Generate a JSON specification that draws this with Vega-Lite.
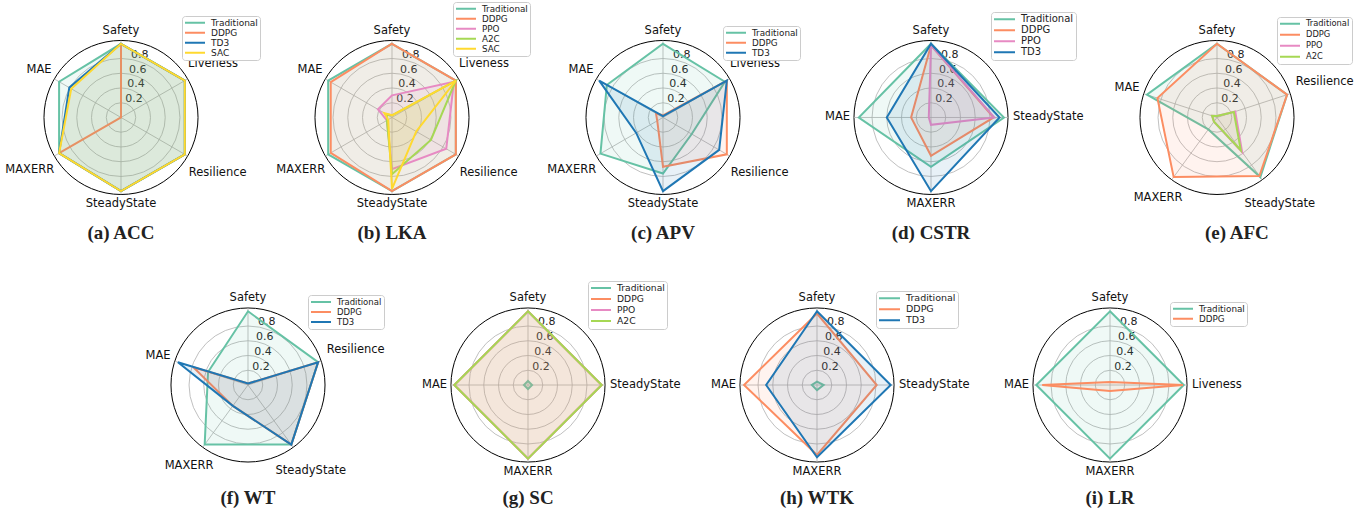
{
"$schema": "https://vega.github.io/schema/vega-lite/v6.json",
"padding": 0,
"background": "white",
"config": {"view": {"stroke": null}, "font": "DejaVu Sans", "legend": {"padding": 2}},
"datasets": {
"rings": [{"g":0.2},{"g":0.4},{"g":0.6},{"g":0.8}],
"outer": [{"g":1.045}],
"radar": [
{"p":"a","m":"Traditional","a":"Safety","i":0,"n":6,"v":1.0},
{"p":"a","m":"Traditional","a":"Liveness","i":1,"n":6,"v":1.0},
{"p":"a","m":"Traditional","a":"Resilience","i":2,"n":6,"v":1.0},
{"p":"a","m":"Traditional","a":"SteadyState","i":3,"n":6,"v":1.0},
{"p":"a","m":"Traditional","a":"MAXERR","i":4,"n":6,"v":0.97},
{"p":"a","m":"Traditional","a":"MAE","i":5,"n":6,"v":0.97},
{"p":"a","m":"DDPG","a":"Safety","i":0,"n":6,"v":0.98},
{"p":"a","m":"DDPG","a":"Liveness","i":1,"n":6,"v":0.0},
{"p":"a","m":"DDPG","a":"Resilience","i":2,"n":6,"v":0.0},
{"p":"a","m":"DDPG","a":"SteadyState","i":3,"n":6,"v":0.0},
{"p":"a","m":"DDPG","a":"MAXERR","i":4,"n":6,"v":0.97},
{"p":"a","m":"DDPG","a":"MAE","i":5,"n":6,"v":0.0},
{"p":"a","m":"TD3","a":"Safety","i":0,"n":6,"v":1.0},
{"p":"a","m":"TD3","a":"Liveness","i":1,"n":6,"v":1.0},
{"p":"a","m":"TD3","a":"Resilience","i":2,"n":6,"v":1.0},
{"p":"a","m":"TD3","a":"SteadyState","i":3,"n":6,"v":1.0},
{"p":"a","m":"TD3","a":"MAXERR","i":4,"n":6,"v":0.97},
{"p":"a","m":"TD3","a":"MAE","i":5,"n":6,"v":0.81},
{"p":"a","m":"SAC","a":"Safety","i":0,"n":6,"v":1.0},
{"p":"a","m":"SAC","a":"Liveness","i":1,"n":6,"v":1.0},
{"p":"a","m":"SAC","a":"Resilience","i":2,"n":6,"v":1.0},
{"p":"a","m":"SAC","a":"SteadyState","i":3,"n":6,"v":1.0},
{"p":"a","m":"SAC","a":"MAXERR","i":4,"n":6,"v":0.97},
{"p":"a","m":"SAC","a":"MAE","i":5,"n":6,"v":0.78},
{"p":"b","m":"Traditional","a":"Safety","i":0,"n":6,"v":1.0},
{"p":"b","m":"Traditional","a":"Liveness","i":1,"n":6,"v":1.0},
{"p":"b","m":"Traditional","a":"Resilience","i":2,"n":6,"v":1.0},
{"p":"b","m":"Traditional","a":"SteadyState","i":3,"n":6,"v":1.0},
{"p":"b","m":"Traditional","a":"MAXERR","i":4,"n":6,"v":1.0},
{"p":"b","m":"Traditional","a":"MAE","i":5,"n":6,"v":1.0},
{"p":"b","m":"DDPG","a":"Safety","i":0,"n":6,"v":1.0},
{"p":"b","m":"DDPG","a":"Liveness","i":1,"n":6,"v":1.0},
{"p":"b","m":"DDPG","a":"Resilience","i":2,"n":6,"v":1.0},
{"p":"b","m":"DDPG","a":"SteadyState","i":3,"n":6,"v":1.0},
{"p":"b","m":"DDPG","a":"MAXERR","i":4,"n":6,"v":0.96},
{"p":"b","m":"DDPG","a":"MAE","i":5,"n":6,"v":0.96},
{"p":"b","m":"PPO","a":"Safety","i":0,"n":6,"v":0.3},
{"p":"b","m":"PPO","a":"Liveness","i":1,"n":6,"v":0.97},
{"p":"b","m":"PPO","a":"Resilience","i":2,"n":6,"v":0.85},
{"p":"b","m":"PPO","a":"SteadyState","i":3,"n":6,"v":0.7},
{"p":"b","m":"PPO","a":"MAXERR","i":4,"n":6,"v":0.08},
{"p":"b","m":"PPO","a":"MAE","i":5,"n":6,"v":0.22},
{"p":"b","m":"A2C","a":"Safety","i":0,"n":6,"v":0.03},
{"p":"b","m":"A2C","a":"Liveness","i":1,"n":6,"v":1.0},
{"p":"b","m":"A2C","a":"Resilience","i":2,"n":6,"v":0.61},
{"p":"b","m":"A2C","a":"SteadyState","i":3,"n":6,"v":0.77},
{"p":"b","m":"A2C","a":"MAXERR","i":4,"n":6,"v":0.08},
{"p":"b","m":"A2C","a":"MAE","i":5,"n":6,"v":0.08},
{"p":"b","m":"SAC","a":"Safety","i":0,"n":6,"v":0.03},
{"p":"b","m":"SAC","a":"Liveness","i":1,"n":6,"v":1.0},
{"p":"b","m":"SAC","a":"Resilience","i":2,"n":6,"v":0.38},
{"p":"b","m":"SAC","a":"SteadyState","i":3,"n":6,"v":0.97},
{"p":"b","m":"SAC","a":"MAXERR","i":4,"n":6,"v":0.06},
{"p":"b","m":"SAC","a":"MAE","i":5,"n":6,"v":0.12},
{"p":"c","m":"Traditional","a":"Safety","i":0,"n":6,"v":1.0},
{"p":"c","m":"Traditional","a":"Liveness","i":1,"n":6,"v":0.97},
{"p":"c","m":"Traditional","a":"Resilience","i":2,"n":6,"v":0.45},
{"p":"c","m":"Traditional","a":"SteadyState","i":3,"n":6,"v":0.76},
{"p":"c","m":"Traditional","a":"MAXERR","i":4,"n":6,"v":0.98},
{"p":"c","m":"Traditional","a":"MAE","i":5,"n":6,"v":0.88},
{"p":"c","m":"DDPG","a":"Safety","i":0,"n":6,"v":0.03},
{"p":"c","m":"DDPG","a":"Liveness","i":1,"n":6,"v":1.0},
{"p":"c","m":"DDPG","a":"Resilience","i":2,"n":6,"v":1.0},
{"p":"c","m":"DDPG","a":"SteadyState","i":3,"n":6,"v":0.67},
{"p":"c","m":"DDPG","a":"MAXERR","i":4,"n":6,"v":0.09},
{"p":"c","m":"DDPG","a":"MAE","i":5,"n":6,"v":0.11},
{"p":"c","m":"TD3","a":"Safety","i":0,"n":6,"v":0.02},
{"p":"c","m":"TD3","a":"Liveness","i":1,"n":6,"v":1.0},
{"p":"c","m":"TD3","a":"Resilience","i":2,"n":6,"v":0.88},
{"p":"c","m":"TD3","a":"SteadyState","i":3,"n":6,"v":1.0},
{"p":"c","m":"TD3","a":"MAXERR","i":4,"n":6,"v":0.42},
{"p":"c","m":"TD3","a":"MAE","i":5,"n":6,"v":1.0},
{"p":"d","m":"Traditional","a":"Safety","i":0,"n":4,"v":1.0},
{"p":"d","m":"Traditional","a":"SteadyState","i":1,"n":4,"v":0.99},
{"p":"d","m":"Traditional","a":"MAXERR","i":2,"n":4,"v":0.67},
{"p":"d","m":"Traditional","a":"MAE","i":3,"n":4,"v":0.98},
{"p":"d","m":"DDPG","a":"Safety","i":0,"n":4,"v":0.98},
{"p":"d","m":"DDPG","a":"SteadyState","i":1,"n":4,"v":0.85},
{"p":"d","m":"DDPG","a":"MAXERR","i":2,"n":4,"v":0.52},
{"p":"d","m":"DDPG","a":"MAE","i":3,"n":4,"v":0.27},
{"p":"d","m":"PPO","a":"Safety","i":0,"n":4,"v":0.98},
{"p":"d","m":"PPO","a":"SteadyState","i":1,"n":4,"v":0.86},
{"p":"d","m":"PPO","a":"MAXERR","i":2,"n":4,"v":0.1},
{"p":"d","m":"PPO","a":"MAE","i":3,"n":4,"v":0.03},
{"p":"d","m":"TD3","a":"Safety","i":0,"n":4,"v":1.0},
{"p":"d","m":"TD3","a":"SteadyState","i":1,"n":4,"v":0.93},
{"p":"d","m":"TD3","a":"MAXERR","i":2,"n":4,"v":1.0},
{"p":"d","m":"TD3","a":"MAE","i":3,"n":4,"v":0.6},
{"p":"e","m":"Traditional","a":"Safety","i":0,"n":5,"v":1.0},
{"p":"e","m":"Traditional","a":"Resilience","i":1,"n":5,"v":1.0},
{"p":"e","m":"Traditional","a":"SteadyState","i":2,"n":5,"v":1.0},
{"p":"e","m":"Traditional","a":"MAXERR","i":3,"n":5,"v":0.2},
{"p":"e","m":"Traditional","a":"MAE","i":4,"n":5,"v":1.0},
{"p":"e","m":"DDPG","a":"Safety","i":0,"n":5,"v":1.0},
{"p":"e","m":"DDPG","a":"Resilience","i":1,"n":5,"v":1.0},
{"p":"e","m":"DDPG","a":"SteadyState","i":2,"n":5,"v":0.98},
{"p":"e","m":"DDPG","a":"MAXERR","i":3,"n":5,"v":1.0},
{"p":"e","m":"DDPG","a":"MAE","i":4,"n":5,"v":0.85},
{"p":"e","m":"PPO","a":"Safety","i":0,"n":5,"v":0.02},
{"p":"e","m":"PPO","a":"Resilience","i":1,"n":5,"v":0.26},
{"p":"e","m":"PPO","a":"SteadyState","i":2,"n":5,"v":0.58},
{"p":"e","m":"PPO","a":"MAXERR","i":3,"n":5,"v":0.07},
{"p":"e","m":"PPO","a":"MAE","i":4,"n":5,"v":0.07},
{"p":"e","m":"A2C","a":"Safety","i":0,"n":5,"v":0.02},
{"p":"e","m":"A2C","a":"Resilience","i":1,"n":5,"v":0.24},
{"p":"e","m":"A2C","a":"SteadyState","i":2,"n":5,"v":0.55},
{"p":"e","m":"A2C","a":"MAXERR","i":3,"n":5,"v":0.07},
{"p":"e","m":"A2C","a":"MAE","i":4,"n":5,"v":0.07},
{"p":"f","m":"Traditional","a":"Safety","i":0,"n":5,"v":1.0},
{"p":"f","m":"Traditional","a":"Resilience","i":1,"n":5,"v":1.0},
{"p":"f","m":"Traditional","a":"SteadyState","i":2,"n":5,"v":1.0},
{"p":"f","m":"Traditional","a":"MAXERR","i":3,"n":5,"v":1.0},
{"p":"f","m":"Traditional","a":"MAE","i":4,"n":5,"v":0.57},
{"p":"f","m":"DDPG","a":"Safety","i":0,"n":5,"v":0.02},
{"p":"f","m":"DDPG","a":"Resilience","i":1,"n":5,"v":1.0},
{"p":"f","m":"DDPG","a":"SteadyState","i":2,"n":5,"v":1.0},
{"p":"f","m":"DDPG","a":"MAXERR","i":3,"n":5,"v":0.35},
{"p":"f","m":"DDPG","a":"MAE","i":4,"n":5,"v":0.78},
{"p":"f","m":"TD3","a":"Safety","i":0,"n":5,"v":0.02},
{"p":"f","m":"TD3","a":"Resilience","i":1,"n":5,"v":1.0},
{"p":"f","m":"TD3","a":"SteadyState","i":2,"n":5,"v":1.0},
{"p":"f","m":"TD3","a":"MAXERR","i":3,"n":5,"v":0.35},
{"p":"f","m":"TD3","a":"MAE","i":4,"n":5,"v":1.0},
{"p":"g","m":"Traditional","a":"Safety","i":0,"n":4,"v":0.055},
{"p":"g","m":"Traditional","a":"SteadyState","i":1,"n":4,"v":0.055},
{"p":"g","m":"Traditional","a":"MAXERR","i":2,"n":4,"v":0.055},
{"p":"g","m":"Traditional","a":"MAE","i":3,"n":4,"v":0.055},
{"p":"g","m":"DDPG","a":"Safety","i":0,"n":4,"v":1.0},
{"p":"g","m":"DDPG","a":"SteadyState","i":1,"n":4,"v":1.0},
{"p":"g","m":"DDPG","a":"MAXERR","i":2,"n":4,"v":1.0},
{"p":"g","m":"DDPG","a":"MAE","i":3,"n":4,"v":1.0},
{"p":"g","m":"PPO","a":"Safety","i":0,"n":4,"v":1.0},
{"p":"g","m":"PPO","a":"SteadyState","i":1,"n":4,"v":1.0},
{"p":"g","m":"PPO","a":"MAXERR","i":2,"n":4,"v":1.0},
{"p":"g","m":"PPO","a":"MAE","i":3,"n":4,"v":1.0},
{"p":"g","m":"A2C","a":"Safety","i":0,"n":4,"v":1.0},
{"p":"g","m":"A2C","a":"SteadyState","i":1,"n":4,"v":1.0},
{"p":"g","m":"A2C","a":"MAXERR","i":2,"n":4,"v":1.0},
{"p":"g","m":"A2C","a":"MAE","i":3,"n":4,"v":1.0},
{"p":"h","m":"Traditional","a":"Safety","i":0,"n":4,"v":0.045},
{"p":"h","m":"Traditional","a":"SteadyState","i":1,"n":4,"v":0.09},
{"p":"h","m":"Traditional","a":"MAXERR","i":2,"n":4,"v":0.07},
{"p":"h","m":"Traditional","a":"MAE","i":3,"n":4,"v":0.07},
{"p":"h","m":"DDPG","a":"Safety","i":0,"n":4,"v":0.97},
{"p":"h","m":"DDPG","a":"SteadyState","i":1,"n":4,"v":0.81},
{"p":"h","m":"DDPG","a":"MAXERR","i":2,"n":4,"v":0.95},
{"p":"h","m":"DDPG","a":"MAE","i":3,"n":4,"v":0.99},
{"p":"h","m":"TD3","a":"Safety","i":0,"n":4,"v":1.0},
{"p":"h","m":"TD3","a":"SteadyState","i":1,"n":4,"v":1.0},
{"p":"h","m":"TD3","a":"MAXERR","i":2,"n":4,"v":0.98},
{"p":"h","m":"TD3","a":"MAE","i":3,"n":4,"v":0.69},
{"p":"i","m":"Traditional","a":"Safety","i":0,"n":4,"v":1.0},
{"p":"i","m":"Traditional","a":"Liveness","i":1,"n":4,"v":1.0},
{"p":"i","m":"Traditional","a":"MAXERR","i":2,"n":4,"v":1.0},
{"p":"i","m":"Traditional","a":"MAE","i":3,"n":4,"v":1.0},
{"p":"i","m":"DDPG","a":"Safety","i":0,"n":4,"v":0.04},
{"p":"i","m":"DDPG","a":"Liveness","i":1,"n":4,"v":0.99},
{"p":"i","m":"DDPG","a":"MAXERR","i":2,"n":4,"v":0.08},
{"p":"i","m":"DDPG","a":"MAE","i":3,"n":4,"v":0.92}
]},
"spacing": 0,
"resolve": {"scale": {"stroke": "independent", "fill": "independent"}, "legend": {"stroke": "independent", "fill": "independent"}},
"vconcat": [
{"hconcat": [
{"width": 256, "height": 255, "layer": [
 {"data": {"name": "rings"}, "transform": [{"calculate": "0", "as": "o"}], "mark": {"type": "point", "shape": "circle", "filled": false, "color": "#b0b0b0", "opacity": 1, "strokeWidth": 0.8},
  "encoding": {"x": {"field": "o", "type": "quantitative", "scale": {"domain": [-1.6418, 1.8318], "nice": false, "zero": false}, "axis": null},
   "y": {"field": "o", "type": "quantitative", "scale": {"domain": [-1.866, 1.594], "nice": false, "zero": false}, "axis": null},
   "size": {"field": "g", "type": "quantitative", "scale": {"type": "pow", "exponent": 2, "domain": [0, 1], "range": [0, 21727], "zero": true}, "legend": null}}},
 {"data": {"name": "outer"}, "transform": [{"calculate": "0", "as": "o"}], "mark": {"type": "point", "shape": "circle", "filled": false, "color": "black", "opacity": 1, "strokeWidth": 1},
  "encoding": {"x": {"field": "o", "type": "quantitative", "axis": null}, "y": {"field": "o", "type": "quantitative", "axis": null}, "size": {"field": "g", "type": "quantitative", "legend": null}}},
 {"data": {"name": "radar"}, "transform": [{"filter": "datum.p == 'a'"}, {"aggregate": [{"op": "count", "as": "c"}], "groupby": ["a", "i", "n"]}, {"calculate": "0", "as": "o"}, {"calculate": "2*PI*datum.i/datum.n", "as": "ang"}, {"calculate": "1.045*sin(datum.ang)", "as": "sx"}, {"calculate": "1.045*cos(datum.ang)", "as": "sy"}],
  "mark": {"type": "rule", "stroke": "#b0b0b0", "strokeWidth": 0.8},
  "encoding": {"x": {"field": "o", "type": "quantitative", "axis": null}, "y": {"field": "o", "type": "quantitative", "axis": null}, "x2": {"field": "sx"}, "y2": {"field": "sy"}}},
 {"data": {"name": "rings"}, "transform": [{"calculate": "0.15 + 0.13*datum.g", "as": "lx"}, {"calculate": "datum.g + 0.05", "as": "ly"}],
  "mark": {"type": "text", "fontSize": 11, "color": "#222222", "align": "center", "baseline": "middle"},
  "encoding": {"x": {"field": "lx", "type": "quantitative", "axis": null}, "y": {"field": "ly", "type": "quantitative", "axis": null}, "text": {"field": "g", "type": "quantitative", "format": ".1f"}}},
 {"data": {"name": "radar"}, "transform": [{"filter": "datum.p == 'a'"}, {"calculate": "2*PI*datum.i/datum.n", "as": "ang"}, {"calculate": "datum.v*sin(datum.ang)", "as": "px"}, {"calculate": "datum.v*cos(datum.ang)", "as": "py"}],
  "mark": {"type": "line", "interpolate": "linear-closed", "strokeWidth": 2, "fillOpacity": 0.1},
  "encoding": {"x": {"field": "px", "type": "quantitative", "axis": null}, "y": {"field": "py", "type": "quantitative", "axis": null}, "order": {"field": "i", "type": "quantitative"},
   "stroke": {"field": "m", "type": "nominal", "scale": {"domain": ["Traditional", "DDPG", "TD3", "SAC"], "range": ["#66c2a5", "#fc8d62", "#1f77b4", "#ffd92f"]},
    "legend": {"title": null, "orient": "none", "legendX": 182, "legendY": 16, "symbolType": "stroke", "symbolSize": 400, "symbolStrokeWidth": 2, "labelFontSize": 9, "labelFont": "DejaVu Sans", "labelColor": "#222222", "labelOffset": 5, "clipHeight": 9.4, "rowPadding": 0, "padding": 2, "strokeColor": "#cccccc", "cornerRadius": 3, "fillColor": "white"}},
   "fill": {"field": "m", "type": "nominal", "scale": {"domain": ["SAC", "TD3", "DDPG", "Traditional"], "range": ["#ffd92f", "#1f77b4", "#fc8d62", "#66c2a5"]}, "legend": null}}},
 {"data": {"name": "radar"}, "transform": [{"filter": "datum.p == 'a'"}, {"aggregate": [{"op": "count", "as": "c"}], "groupby": ["a", "i", "n"]}, {"calculate": "2*PI*datum.i/datum.n", "as": "ang"}, {"calculate": "length(replace(datum.a, regexp('[A-Z]', 'g'), ''))", "as": "lo"}, {"calculate": "length(datum.a) - datum.lo", "as": "up"}, {"calculate": "1.1 + 11.5*(0.54*datum.lo + 0.72*datum.up)/147.4*abs(sin(datum.ang)) + 0.075*abs(cos(datum.ang))", "as": "rc"}, {"calculate": "datum.rc*sin(datum.ang)", "as": "lx"}, {"calculate": "datum.rc*cos(datum.ang)", "as": "ly"}],
  "mark": {"type": "text", "fontSize": 11.5, "color": "#111111", "align": "center", "baseline": "middle"},
  "encoding": {"x": {"field": "lx", "type": "quantitative", "axis": null}, "y": {"field": "ly", "type": "quantitative", "axis": null}, "text": {"field": "a", "type": "nominal"}}},
 {"data": {"values": [{"cap": "(a) ACC", "cx": 0, "cy": -1.57}]}, "mark": {"type": "text", "font": "Liberation Serif", "fontWeight": "bold", "fontSize": 19, "color": "#222222", "align": "center", "baseline": "middle"},
  "encoding": {"x": {"field": "cx", "type": "quantitative", "axis": null}, "y": {"field": "cy", "type": "quantitative", "axis": null}, "text": {"field": "cap", "type": "nominal"}}}
]},
{"width": 271, "height": 255, "layer": [
 {"data": {"name": "rings"}, "transform": [{"calculate": "0", "as": "o"}], "mark": {"type": "point", "shape": "circle", "filled": false, "color": "#b0b0b0", "opacity": 1, "strokeWidth": 0.8},
  "encoding": {"x": {"field": "o", "type": "quantitative", "scale": {"domain": [-1.8453, 1.8318], "nice": false, "zero": false}, "axis": null},
   "y": {"field": "o", "type": "quantitative", "scale": {"domain": [-1.866, 1.594], "nice": false, "zero": false}, "axis": null},
   "size": {"field": "g", "type": "quantitative", "scale": {"type": "pow", "exponent": 2, "domain": [0, 1], "range": [0, 21727], "zero": true}, "legend": null}}},
 {"data": {"name": "outer"}, "transform": [{"calculate": "0", "as": "o"}], "mark": {"type": "point", "shape": "circle", "filled": false, "color": "black", "opacity": 1, "strokeWidth": 1},
  "encoding": {"x": {"field": "o", "type": "quantitative", "axis": null}, "y": {"field": "o", "type": "quantitative", "axis": null}, "size": {"field": "g", "type": "quantitative", "legend": null}}},
 {"data": {"name": "radar"}, "transform": [{"filter": "datum.p == 'b'"}, {"aggregate": [{"op": "count", "as": "c"}], "groupby": ["a", "i", "n"]}, {"calculate": "0", "as": "o"}, {"calculate": "2*PI*datum.i/datum.n", "as": "ang"}, {"calculate": "1.045*sin(datum.ang)", "as": "sx"}, {"calculate": "1.045*cos(datum.ang)", "as": "sy"}],
  "mark": {"type": "rule", "stroke": "#b0b0b0", "strokeWidth": 0.8},
  "encoding": {"x": {"field": "o", "type": "quantitative", "axis": null}, "y": {"field": "o", "type": "quantitative", "axis": null}, "x2": {"field": "sx"}, "y2": {"field": "sy"}}},
 {"data": {"name": "rings"}, "transform": [{"calculate": "0.15 + 0.13*datum.g", "as": "lx"}, {"calculate": "datum.g + 0.05", "as": "ly"}],
  "mark": {"type": "text", "fontSize": 11, "color": "#222222", "align": "center", "baseline": "middle"},
  "encoding": {"x": {"field": "lx", "type": "quantitative", "axis": null}, "y": {"field": "ly", "type": "quantitative", "axis": null}, "text": {"field": "g", "type": "quantitative", "format": ".1f"}}},
 {"data": {"name": "radar"}, "transform": [{"filter": "datum.p == 'b'"}, {"calculate": "2*PI*datum.i/datum.n", "as": "ang"}, {"calculate": "datum.v*sin(datum.ang)", "as": "px"}, {"calculate": "datum.v*cos(datum.ang)", "as": "py"}],
  "mark": {"type": "line", "interpolate": "linear-closed", "strokeWidth": 2, "fillOpacity": 0.1},
  "encoding": {"x": {"field": "px", "type": "quantitative", "axis": null}, "y": {"field": "py", "type": "quantitative", "axis": null}, "order": {"field": "i", "type": "quantitative"},
   "stroke": {"field": "m", "type": "nominal", "scale": {"domain": ["Traditional", "DDPG", "PPO", "A2C", "SAC"], "range": ["#66c2a5", "#fc8d62", "#e78ac3", "#a6d854", "#ffd92f"]},
    "legend": {"title": null, "orient": "none", "legendX": 197, "legendY": 2, "symbolType": "stroke", "symbolSize": 400, "symbolStrokeWidth": 2, "labelFontSize": 8.8, "labelFont": "DejaVu Sans", "labelColor": "#222222", "labelOffset": 5, "clipHeight": 9.5, "rowPadding": 0, "padding": 2, "strokeColor": "#cccccc", "cornerRadius": 3, "fillColor": "white"}},
   "fill": {"field": "m", "type": "nominal", "scale": {"domain": ["SAC", "A2C", "PPO", "DDPG", "Traditional"], "range": ["#ffd92f", "#a6d854", "#e78ac3", "#fc8d62", "#66c2a5"]}, "legend": null}}},
 {"data": {"name": "radar"}, "transform": [{"filter": "datum.p == 'b'"}, {"aggregate": [{"op": "count", "as": "c"}], "groupby": ["a", "i", "n"]}, {"calculate": "2*PI*datum.i/datum.n", "as": "ang"}, {"calculate": "length(replace(datum.a, regexp('[A-Z]', 'g'), ''))", "as": "lo"}, {"calculate": "length(datum.a) - datum.lo", "as": "up"}, {"calculate": "1.1 + 11.5*(0.54*datum.lo + 0.72*datum.up)/147.4*abs(sin(datum.ang)) + 0.075*abs(cos(datum.ang))", "as": "rc"}, {"calculate": "datum.rc*sin(datum.ang)", "as": "lx"}, {"calculate": "datum.rc*cos(datum.ang)", "as": "ly"}],
  "mark": {"type": "text", "fontSize": 11.5, "color": "#111111", "align": "center", "baseline": "middle"},
  "encoding": {"x": {"field": "lx", "type": "quantitative", "axis": null}, "y": {"field": "ly", "type": "quantitative", "axis": null}, "text": {"field": "a", "type": "nominal"}}},
 {"data": {"values": [{"cap": "(b) LKA", "cx": 0, "cy": -1.57}]}, "mark": {"type": "text", "font": "Liberation Serif", "fontWeight": "bold", "fontSize": 19, "color": "#222222", "align": "center", "baseline": "middle"},
  "encoding": {"x": {"field": "cx", "type": "quantitative", "axis": null}, "y": {"field": "cy", "type": "quantitative", "axis": null}, "text": {"field": "cap", "type": "nominal"}}}
]},
{"width": 270, "height": 255, "layer": [
 {"data": {"name": "rings"}, "transform": [{"calculate": "0", "as": "o"}], "mark": {"type": "point", "shape": "circle", "filled": false, "color": "#b0b0b0", "opacity": 1, "strokeWidth": 0.8},
  "encoding": {"x": {"field": "o", "type": "quantitative", "scale": {"domain": [-1.8453, 1.8182], "nice": false, "zero": false}, "axis": null},
   "y": {"field": "o", "type": "quantitative", "scale": {"domain": [-1.866, 1.594], "nice": false, "zero": false}, "axis": null},
   "size": {"field": "g", "type": "quantitative", "scale": {"type": "pow", "exponent": 2, "domain": [0, 1], "range": [0, 21727], "zero": true}, "legend": null}}},
 {"data": {"name": "outer"}, "transform": [{"calculate": "0", "as": "o"}], "mark": {"type": "point", "shape": "circle", "filled": false, "color": "black", "opacity": 1, "strokeWidth": 1},
  "encoding": {"x": {"field": "o", "type": "quantitative", "axis": null}, "y": {"field": "o", "type": "quantitative", "axis": null}, "size": {"field": "g", "type": "quantitative", "legend": null}}},
 {"data": {"name": "radar"}, "transform": [{"filter": "datum.p == 'c'"}, {"aggregate": [{"op": "count", "as": "c"}], "groupby": ["a", "i", "n"]}, {"calculate": "0", "as": "o"}, {"calculate": "2*PI*datum.i/datum.n", "as": "ang"}, {"calculate": "1.045*sin(datum.ang)", "as": "sx"}, {"calculate": "1.045*cos(datum.ang)", "as": "sy"}],
  "mark": {"type": "rule", "stroke": "#b0b0b0", "strokeWidth": 0.8},
  "encoding": {"x": {"field": "o", "type": "quantitative", "axis": null}, "y": {"field": "o", "type": "quantitative", "axis": null}, "x2": {"field": "sx"}, "y2": {"field": "sy"}}},
 {"data": {"name": "rings"}, "transform": [{"calculate": "0.15 + 0.13*datum.g", "as": "lx"}, {"calculate": "datum.g + 0.05", "as": "ly"}],
  "mark": {"type": "text", "fontSize": 11, "color": "#222222", "align": "center", "baseline": "middle"},
  "encoding": {"x": {"field": "lx", "type": "quantitative", "axis": null}, "y": {"field": "ly", "type": "quantitative", "axis": null}, "text": {"field": "g", "type": "quantitative", "format": ".1f"}}},
 {"data": {"name": "radar"}, "transform": [{"filter": "datum.p == 'c'"}, {"calculate": "2*PI*datum.i/datum.n", "as": "ang"}, {"calculate": "datum.v*sin(datum.ang)", "as": "px"}, {"calculate": "datum.v*cos(datum.ang)", "as": "py"}],
  "mark": {"type": "line", "interpolate": "linear-closed", "strokeWidth": 2, "fillOpacity": 0.1},
  "encoding": {"x": {"field": "px", "type": "quantitative", "axis": null}, "y": {"field": "py", "type": "quantitative", "axis": null}, "order": {"field": "i", "type": "quantitative"},
   "stroke": {"field": "m", "type": "nominal", "scale": {"domain": ["Traditional", "DDPG", "TD3"], "range": ["#66c2a5", "#fc8d62", "#1f77b4"]},
    "legend": {"title": null, "orient": "none", "legendX": 196, "legendY": 26, "symbolType": "stroke", "symbolSize": 400, "symbolStrokeWidth": 2, "labelFontSize": 8.8, "labelFont": "DejaVu Sans", "labelColor": "#222222", "labelOffset": 5, "clipHeight": 9.4, "rowPadding": 0, "padding": 2, "strokeColor": "#cccccc", "cornerRadius": 3, "fillColor": "white"}},
   "fill": {"field": "m", "type": "nominal", "scale": {"domain": ["TD3", "DDPG", "Traditional"], "range": ["#1f77b4", "#fc8d62", "#66c2a5"]}, "legend": null}}},
 {"data": {"name": "radar"}, "transform": [{"filter": "datum.p == 'c'"}, {"aggregate": [{"op": "count", "as": "c"}], "groupby": ["a", "i", "n"]}, {"calculate": "2*PI*datum.i/datum.n", "as": "ang"}, {"calculate": "length(replace(datum.a, regexp('[A-Z]', 'g'), ''))", "as": "lo"}, {"calculate": "length(datum.a) - datum.lo", "as": "up"}, {"calculate": "1.1 + 11.5*(0.54*datum.lo + 0.72*datum.up)/147.4*abs(sin(datum.ang)) + 0.075*abs(cos(datum.ang))", "as": "rc"}, {"calculate": "datum.rc*sin(datum.ang)", "as": "lx"}, {"calculate": "datum.rc*cos(datum.ang)", "as": "ly"}],
  "mark": {"type": "text", "fontSize": 11.5, "color": "#111111", "align": "center", "baseline": "middle"},
  "encoding": {"x": {"field": "lx", "type": "quantitative", "axis": null}, "y": {"field": "ly", "type": "quantitative", "axis": null}, "text": {"field": "a", "type": "nominal"}}},
 {"data": {"values": [{"cap": "(c) APV", "cx": 0, "cy": -1.57}]}, "mark": {"type": "text", "font": "Liberation Serif", "fontWeight": "bold", "fontSize": 19, "color": "#222222", "align": "center", "baseline": "middle"},
  "encoding": {"x": {"field": "cx", "type": "quantitative", "axis": null}, "y": {"field": "cy", "type": "quantitative", "axis": null}, "text": {"field": "cap", "type": "nominal"}}}
]},
{"width": 277, "height": 255, "layer": [
 {"data": {"name": "rings"}, "transform": [{"calculate": "0", "as": "o"}], "mark": {"type": "point", "shape": "circle", "filled": false, "color": "#b0b0b0", "opacity": 1, "strokeWidth": 0.8},
  "encoding": {"x": {"field": "o", "type": "quantitative", "scale": {"domain": [-1.8182, 1.9403], "nice": false, "zero": false}, "axis": null},
   "y": {"field": "o", "type": "quantitative", "scale": {"domain": [-1.866, 1.594], "nice": false, "zero": false}, "axis": null},
   "size": {"field": "g", "type": "quantitative", "scale": {"type": "pow", "exponent": 2, "domain": [0, 1], "range": [0, 21727], "zero": true}, "legend": null}}},
 {"data": {"name": "outer"}, "transform": [{"calculate": "0", "as": "o"}], "mark": {"type": "point", "shape": "circle", "filled": false, "color": "black", "opacity": 1, "strokeWidth": 1},
  "encoding": {"x": {"field": "o", "type": "quantitative", "axis": null}, "y": {"field": "o", "type": "quantitative", "axis": null}, "size": {"field": "g", "type": "quantitative", "legend": null}}},
 {"data": {"name": "radar"}, "transform": [{"filter": "datum.p == 'd'"}, {"aggregate": [{"op": "count", "as": "c"}], "groupby": ["a", "i", "n"]}, {"calculate": "0", "as": "o"}, {"calculate": "2*PI*datum.i/datum.n", "as": "ang"}, {"calculate": "1.045*sin(datum.ang)", "as": "sx"}, {"calculate": "1.045*cos(datum.ang)", "as": "sy"}],
  "mark": {"type": "rule", "stroke": "#b0b0b0", "strokeWidth": 0.8},
  "encoding": {"x": {"field": "o", "type": "quantitative", "axis": null}, "y": {"field": "o", "type": "quantitative", "axis": null}, "x2": {"field": "sx"}, "y2": {"field": "sy"}}},
 {"data": {"name": "rings"}, "transform": [{"calculate": "0.15 + 0.13*datum.g", "as": "lx"}, {"calculate": "datum.g + 0.05", "as": "ly"}],
  "mark": {"type": "text", "fontSize": 11, "color": "#222222", "align": "center", "baseline": "middle"},
  "encoding": {"x": {"field": "lx", "type": "quantitative", "axis": null}, "y": {"field": "ly", "type": "quantitative", "axis": null}, "text": {"field": "g", "type": "quantitative", "format": ".1f"}}},
 {"data": {"name": "radar"}, "transform": [{"filter": "datum.p == 'd'"}, {"calculate": "2*PI*datum.i/datum.n", "as": "ang"}, {"calculate": "datum.v*sin(datum.ang)", "as": "px"}, {"calculate": "datum.v*cos(datum.ang)", "as": "py"}],
  "mark": {"type": "line", "interpolate": "linear-closed", "strokeWidth": 2, "fillOpacity": 0.1},
  "encoding": {"x": {"field": "px", "type": "quantitative", "axis": null}, "y": {"field": "py", "type": "quantitative", "axis": null}, "order": {"field": "i", "type": "quantitative"},
   "stroke": {"field": "m", "type": "nominal", "scale": {"domain": ["Traditional", "DDPG", "PPO", "TD3"], "range": ["#66c2a5", "#fc8d62", "#e78ac3", "#1f77b4"]},
    "legend": {"title": null, "orient": "none", "legendX": 194, "legendY": 12, "symbolType": "stroke", "symbolSize": 441, "symbolStrokeWidth": 2, "labelFontSize": 10, "labelFont": "DejaVu Sans", "labelColor": "#222222", "labelOffset": 5, "clipHeight": 10.3, "rowPadding": 0, "padding": 2, "strokeColor": "#cccccc", "cornerRadius": 3, "fillColor": "white"}},
   "fill": {"field": "m", "type": "nominal", "scale": {"domain": ["TD3", "PPO", "DDPG", "Traditional"], "range": ["#1f77b4", "#e78ac3", "#fc8d62", "#66c2a5"]}, "legend": null}}},
 {"data": {"name": "radar"}, "transform": [{"filter": "datum.p == 'd'"}, {"aggregate": [{"op": "count", "as": "c"}], "groupby": ["a", "i", "n"]}, {"calculate": "2*PI*datum.i/datum.n", "as": "ang"}, {"calculate": "length(replace(datum.a, regexp('[A-Z]', 'g'), ''))", "as": "lo"}, {"calculate": "length(datum.a) - datum.lo", "as": "up"}, {"calculate": "1.1 + 11.5*(0.54*datum.lo + 0.72*datum.up)/147.4*abs(sin(datum.ang)) + 0.075*abs(cos(datum.ang))", "as": "rc"}, {"calculate": "datum.rc*sin(datum.ang)", "as": "lx"}, {"calculate": "datum.rc*cos(datum.ang)", "as": "ly"}],
  "mark": {"type": "text", "fontSize": 11.5, "color": "#111111", "align": "center", "baseline": "middle"},
  "encoding": {"x": {"field": "lx", "type": "quantitative", "axis": null}, "y": {"field": "ly", "type": "quantitative", "axis": null}, "text": {"field": "a", "type": "nominal"}}},
 {"data": {"values": [{"cap": "(d) CSTR", "cx": 0, "cy": -1.57}]}, "mark": {"type": "text", "font": "Liberation Serif", "fontWeight": "bold", "fontSize": 19, "color": "#222222", "align": "center", "baseline": "middle"},
  "encoding": {"x": {"field": "cx", "type": "quantitative", "axis": null}, "y": {"field": "cy", "type": "quantitative", "axis": null}, "text": {"field": "cap", "type": "nominal"}}}
]},
{"width": 287, "height": 255, "layer": [
 {"data": {"name": "rings"}, "transform": [{"calculate": "0", "as": "o"}], "mark": {"type": "point", "shape": "circle", "filled": false, "color": "#b0b0b0", "opacity": 1, "strokeWidth": 0.8},
  "encoding": {"x": {"field": "o", "type": "quantitative", "scale": {"domain": [-1.9403, 1.9539], "nice": false, "zero": false}, "axis": null},
   "y": {"field": "o", "type": "quantitative", "scale": {"domain": [-1.866, 1.594], "nice": false, "zero": false}, "axis": null},
   "size": {"field": "g", "type": "quantitative", "scale": {"type": "pow", "exponent": 2, "domain": [0, 1], "range": [0, 21727], "zero": true}, "legend": null}}},
 {"data": {"name": "outer"}, "transform": [{"calculate": "0", "as": "o"}], "mark": {"type": "point", "shape": "circle", "filled": false, "color": "black", "opacity": 1, "strokeWidth": 1},
  "encoding": {"x": {"field": "o", "type": "quantitative", "axis": null}, "y": {"field": "o", "type": "quantitative", "axis": null}, "size": {"field": "g", "type": "quantitative", "legend": null}}},
 {"data": {"name": "radar"}, "transform": [{"filter": "datum.p == 'e'"}, {"aggregate": [{"op": "count", "as": "c"}], "groupby": ["a", "i", "n"]}, {"calculate": "0", "as": "o"}, {"calculate": "2*PI*datum.i/datum.n", "as": "ang"}, {"calculate": "1.045*sin(datum.ang)", "as": "sx"}, {"calculate": "1.045*cos(datum.ang)", "as": "sy"}],
  "mark": {"type": "rule", "stroke": "#b0b0b0", "strokeWidth": 0.8},
  "encoding": {"x": {"field": "o", "type": "quantitative", "axis": null}, "y": {"field": "o", "type": "quantitative", "axis": null}, "x2": {"field": "sx"}, "y2": {"field": "sy"}}},
 {"data": {"name": "rings"}, "transform": [{"calculate": "0.15 + 0.13*datum.g", "as": "lx"}, {"calculate": "datum.g + 0.05", "as": "ly"}],
  "mark": {"type": "text", "fontSize": 11, "color": "#222222", "align": "center", "baseline": "middle"},
  "encoding": {"x": {"field": "lx", "type": "quantitative", "axis": null}, "y": {"field": "ly", "type": "quantitative", "axis": null}, "text": {"field": "g", "type": "quantitative", "format": ".1f"}}},
 {"data": {"name": "radar"}, "transform": [{"filter": "datum.p == 'e'"}, {"calculate": "2*PI*datum.i/datum.n", "as": "ang"}, {"calculate": "datum.v*sin(datum.ang)", "as": "px"}, {"calculate": "datum.v*cos(datum.ang)", "as": "py"}],
  "mark": {"type": "line", "interpolate": "linear-closed", "strokeWidth": 2, "fillOpacity": 0.1},
  "encoding": {"x": {"field": "px", "type": "quantitative", "axis": null}, "y": {"field": "py", "type": "quantitative", "axis": null}, "order": {"field": "i", "type": "quantitative"},
   "stroke": {"field": "m", "type": "nominal", "scale": {"domain": ["Traditional", "DDPG", "PPO", "A2C"], "range": ["#66c2a5", "#fc8d62", "#e78ac3", "#a6d854"]},
    "legend": {"title": null, "orient": "none", "legendX": 203, "legendY": 17, "symbolType": "stroke", "symbolSize": 400, "symbolStrokeWidth": 2, "labelFontSize": 8.3, "labelFont": "DejaVu Sans", "labelColor": "#222222", "labelOffset": 5, "clipHeight": 9.5, "rowPadding": 0, "padding": 2, "strokeColor": "#cccccc", "cornerRadius": 3, "fillColor": "white"}},
   "fill": {"field": "m", "type": "nominal", "scale": {"domain": ["A2C", "PPO", "DDPG", "Traditional"], "range": ["#a6d854", "#e78ac3", "#fc8d62", "#66c2a5"]}, "legend": null}}},
 {"data": {"name": "radar"}, "transform": [{"filter": "datum.p == 'e'"}, {"aggregate": [{"op": "count", "as": "c"}], "groupby": ["a", "i", "n"]}, {"calculate": "2*PI*datum.i/datum.n", "as": "ang"}, {"calculate": "length(replace(datum.a, regexp('[A-Z]', 'g'), ''))", "as": "lo"}, {"calculate": "length(datum.a) - datum.lo", "as": "up"}, {"calculate": "1.1 + 11.5*(0.54*datum.lo + 0.72*datum.up)/147.4*abs(sin(datum.ang)) + 0.075*abs(cos(datum.ang))", "as": "rc"}, {"calculate": "datum.rc*sin(datum.ang)", "as": "lx"}, {"calculate": "datum.rc*cos(datum.ang)", "as": "ly"}],
  "mark": {"type": "text", "fontSize": 11.5, "color": "#111111", "align": "center", "baseline": "middle"},
  "encoding": {"x": {"field": "lx", "type": "quantitative", "axis": null}, "y": {"field": "ly", "type": "quantitative", "axis": null}, "text": {"field": "a", "type": "nominal"}}},
 {"data": {"values": [{"cap": "(e) AFC", "cx": 0.27, "cy": -1.57}]}, "mark": {"type": "text", "font": "Liberation Serif", "fontWeight": "bold", "fontSize": 19, "color": "#222222", "align": "center", "baseline": "middle"},
  "encoding": {"x": {"field": "cx", "type": "quantitative", "axis": null}, "y": {"field": "cy", "type": "quantitative", "axis": null}, "text": {"field": "cap", "type": "nominal"}}}
]}
], "spacing": 0, "bounds": "flush", "resolve": {"scale": {"stroke": "independent", "fill": "independent"}, "legend": {"stroke": "independent", "fill": "independent"}}},
{"hconcat": [
{"width": 388, "height": 260, "layer": [
 {"data": {"name": "rings"}, "transform": [{"calculate": "0", "as": "o"}], "mark": {"type": "point", "shape": "circle", "filled": false, "color": "#b0b0b0", "opacity": 1, "strokeWidth": 0.8},
  "encoding": {"x": {"field": "o", "type": "quantitative", "scale": {"domain": [-3.365, 1.8996], "nice": false, "zero": false}, "axis": null},
   "y": {"field": "o", "type": "quantitative", "scale": {"domain": [-1.764, 1.764], "nice": false, "zero": false}, "axis": null},
   "size": {"field": "g", "type": "quantitative", "scale": {"type": "pow", "exponent": 2, "domain": [0, 1], "range": [0, 21727], "zero": true}, "legend": null}}},
 {"data": {"name": "outer"}, "transform": [{"calculate": "0", "as": "o"}], "mark": {"type": "point", "shape": "circle", "filled": false, "color": "black", "opacity": 1, "strokeWidth": 1},
  "encoding": {"x": {"field": "o", "type": "quantitative", "axis": null}, "y": {"field": "o", "type": "quantitative", "axis": null}, "size": {"field": "g", "type": "quantitative", "legend": null}}},
 {"data": {"name": "radar"}, "transform": [{"filter": "datum.p == 'f'"}, {"aggregate": [{"op": "count", "as": "c"}], "groupby": ["a", "i", "n"]}, {"calculate": "0", "as": "o"}, {"calculate": "2*PI*datum.i/datum.n", "as": "ang"}, {"calculate": "1.045*sin(datum.ang)", "as": "sx"}, {"calculate": "1.045*cos(datum.ang)", "as": "sy"}],
  "mark": {"type": "rule", "stroke": "#b0b0b0", "strokeWidth": 0.8},
  "encoding": {"x": {"field": "o", "type": "quantitative", "axis": null}, "y": {"field": "o", "type": "quantitative", "axis": null}, "x2": {"field": "sx"}, "y2": {"field": "sy"}}},
 {"data": {"name": "rings"}, "transform": [{"calculate": "0.15 + 0.13*datum.g", "as": "lx"}, {"calculate": "datum.g + 0.05", "as": "ly"}],
  "mark": {"type": "text", "fontSize": 11, "color": "#222222", "align": "center", "baseline": "middle"},
  "encoding": {"x": {"field": "lx", "type": "quantitative", "axis": null}, "y": {"field": "ly", "type": "quantitative", "axis": null}, "text": {"field": "g", "type": "quantitative", "format": ".1f"}}},
 {"data": {"name": "radar"}, "transform": [{"filter": "datum.p == 'f'"}, {"calculate": "2*PI*datum.i/datum.n", "as": "ang"}, {"calculate": "datum.v*sin(datum.ang)", "as": "px"}, {"calculate": "datum.v*cos(datum.ang)", "as": "py"}],
  "mark": {"type": "line", "interpolate": "linear-closed", "strokeWidth": 2, "fillOpacity": 0.1},
  "encoding": {"x": {"field": "px", "type": "quantitative", "axis": null}, "y": {"field": "py", "type": "quantitative", "axis": null}, "order": {"field": "i", "type": "quantitative"},
   "stroke": {"field": "m", "type": "nominal", "scale": {"domain": ["Traditional", "DDPG", "TD3"], "range": ["#66c2a5", "#fc8d62", "#1f77b4"]},
    "legend": {"title": null, "orient": "none", "legendX": 308, "legendY": 40, "symbolType": "stroke", "symbolSize": 400, "symbolStrokeWidth": 2, "labelFontSize": 8.5, "labelFont": "DejaVu Sans", "labelColor": "#222222", "labelOffset": 5, "clipHeight": 10, "rowPadding": 0, "padding": 2, "strokeColor": "#cccccc", "cornerRadius": 3, "fillColor": "white"}},
   "fill": {"field": "m", "type": "nominal", "scale": {"domain": ["TD3", "DDPG", "Traditional"], "range": ["#1f77b4", "#fc8d62", "#66c2a5"]}, "legend": null}}},
 {"data": {"name": "radar"}, "transform": [{"filter": "datum.p == 'f'"}, {"aggregate": [{"op": "count", "as": "c"}], "groupby": ["a", "i", "n"]}, {"calculate": "2*PI*datum.i/datum.n", "as": "ang"}, {"calculate": "length(replace(datum.a, regexp('[A-Z]', 'g'), ''))", "as": "lo"}, {"calculate": "length(datum.a) - datum.lo", "as": "up"}, {"calculate": "1.1 + 11.5*(0.54*datum.lo + 0.72*datum.up)/147.4*abs(sin(datum.ang)) + 0.075*abs(cos(datum.ang))", "as": "rc"}, {"calculate": "datum.rc*sin(datum.ang)", "as": "lx"}, {"calculate": "datum.rc*cos(datum.ang)", "as": "ly"}],
  "mark": {"type": "text", "fontSize": 11.5, "color": "#111111", "align": "center", "baseline": "middle"},
  "encoding": {"x": {"field": "lx", "type": "quantitative", "axis": null}, "y": {"field": "ly", "type": "quantitative", "axis": null}, "text": {"field": "a", "type": "nominal"}}},
 {"data": {"values": [{"cap": "(f) WT", "cx": 0, "cy": -1.53}]}, "mark": {"type": "text", "font": "Liberation Serif", "fontWeight": "bold", "fontSize": 19, "color": "#222222", "align": "center", "baseline": "middle"},
  "encoding": {"x": {"field": "cx", "type": "quantitative", "axis": null}, "y": {"field": "cy", "type": "quantitative", "axis": null}, "text": {"field": "cap", "type": "nominal"}}}
]},
{"width": 284, "height": 260, "layer": [
 {"data": {"name": "rings"}, "transform": [{"calculate": "0", "as": "o"}], "mark": {"type": "point", "shape": "circle", "filled": false, "color": "#b0b0b0", "opacity": 1, "strokeWidth": 0.8},
  "encoding": {"x": {"field": "o", "type": "quantitative", "scale": {"domain": [-1.8996, 1.9539], "nice": false, "zero": false}, "axis": null},
   "y": {"field": "o", "type": "quantitative", "scale": {"domain": [-1.764, 1.764], "nice": false, "zero": false}, "axis": null},
   "size": {"field": "g", "type": "quantitative", "scale": {"type": "pow", "exponent": 2, "domain": [0, 1], "range": [0, 21727], "zero": true}, "legend": null}}},
 {"data": {"name": "outer"}, "transform": [{"calculate": "0", "as": "o"}], "mark": {"type": "point", "shape": "circle", "filled": false, "color": "black", "opacity": 1, "strokeWidth": 1},
  "encoding": {"x": {"field": "o", "type": "quantitative", "axis": null}, "y": {"field": "o", "type": "quantitative", "axis": null}, "size": {"field": "g", "type": "quantitative", "legend": null}}},
 {"data": {"name": "radar"}, "transform": [{"filter": "datum.p == 'g'"}, {"aggregate": [{"op": "count", "as": "c"}], "groupby": ["a", "i", "n"]}, {"calculate": "0", "as": "o"}, {"calculate": "2*PI*datum.i/datum.n", "as": "ang"}, {"calculate": "1.045*sin(datum.ang)", "as": "sx"}, {"calculate": "1.045*cos(datum.ang)", "as": "sy"}],
  "mark": {"type": "rule", "stroke": "#b0b0b0", "strokeWidth": 0.8},
  "encoding": {"x": {"field": "o", "type": "quantitative", "axis": null}, "y": {"field": "o", "type": "quantitative", "axis": null}, "x2": {"field": "sx"}, "y2": {"field": "sy"}}},
 {"data": {"name": "rings"}, "transform": [{"calculate": "0.15 + 0.13*datum.g", "as": "lx"}, {"calculate": "datum.g + 0.05", "as": "ly"}],
  "mark": {"type": "text", "fontSize": 11, "color": "#222222", "align": "center", "baseline": "middle"},
  "encoding": {"x": {"field": "lx", "type": "quantitative", "axis": null}, "y": {"field": "ly", "type": "quantitative", "axis": null}, "text": {"field": "g", "type": "quantitative", "format": ".1f"}}},
 {"data": {"name": "radar"}, "transform": [{"filter": "datum.p == 'g'"}, {"calculate": "2*PI*datum.i/datum.n", "as": "ang"}, {"calculate": "datum.v*sin(datum.ang)", "as": "px"}, {"calculate": "datum.v*cos(datum.ang)", "as": "py"}],
  "mark": {"type": "line", "interpolate": "linear-closed", "strokeWidth": 2, "fillOpacity": 0.1},
  "encoding": {"x": {"field": "px", "type": "quantitative", "axis": null}, "y": {"field": "py", "type": "quantitative", "axis": null}, "order": {"field": "i", "type": "quantitative"},
   "stroke": {"field": "m", "type": "nominal", "scale": {"domain": ["Traditional", "DDPG", "PPO", "A2C"], "range": ["#66c2a5", "#fc8d62", "#e78ac3", "#a6d854"]},
    "legend": {"title": null, "orient": "none", "legendX": 200, "legendY": 26, "symbolType": "stroke", "symbolSize": 400, "symbolStrokeWidth": 2, "labelFontSize": 9.2, "labelFont": "DejaVu Sans", "labelColor": "#222222", "labelOffset": 5, "clipHeight": 10, "rowPadding": 0, "padding": 2, "strokeColor": "#cccccc", "cornerRadius": 3, "fillColor": "white"}},
   "fill": {"field": "m", "type": "nominal", "scale": {"domain": ["A2C", "PPO", "DDPG", "Traditional"], "range": ["#a6d854", "#e78ac3", "#fc8d62", "#66c2a5"]}, "legend": null}}},
 {"data": {"name": "radar"}, "transform": [{"filter": "datum.p == 'g'"}, {"aggregate": [{"op": "count", "as": "c"}], "groupby": ["a", "i", "n"]}, {"calculate": "2*PI*datum.i/datum.n", "as": "ang"}, {"calculate": "length(replace(datum.a, regexp('[A-Z]', 'g'), ''))", "as": "lo"}, {"calculate": "length(datum.a) - datum.lo", "as": "up"}, {"calculate": "1.1 + 11.5*(0.54*datum.lo + 0.72*datum.up)/147.4*abs(sin(datum.ang)) + 0.075*abs(cos(datum.ang))", "as": "rc"}, {"calculate": "datum.rc*sin(datum.ang)", "as": "lx"}, {"calculate": "datum.rc*cos(datum.ang)", "as": "ly"}],
  "mark": {"type": "text", "fontSize": 11.5, "color": "#111111", "align": "center", "baseline": "middle"},
  "encoding": {"x": {"field": "lx", "type": "quantitative", "axis": null}, "y": {"field": "ly", "type": "quantitative", "axis": null}, "text": {"field": "a", "type": "nominal"}}},
 {"data": {"values": [{"cap": "(g) SC", "cx": 0, "cy": -1.53}]}, "mark": {"type": "text", "font": "Liberation Serif", "fontWeight": "bold", "fontSize": 19, "color": "#222222", "align": "center", "baseline": "middle"},
  "encoding": {"x": {"field": "cx", "type": "quantitative", "axis": null}, "y": {"field": "cy", "type": "quantitative", "axis": null}, "text": {"field": "cap", "type": "nominal"}}}
]},
{"width": 291, "height": 260, "layer": [
 {"data": {"name": "rings"}, "transform": [{"calculate": "0", "as": "o"}], "mark": {"type": "point", "shape": "circle", "filled": false, "color": "#b0b0b0", "opacity": 1, "strokeWidth": 0.8},
  "encoding": {"x": {"field": "o", "type": "quantitative", "scale": {"domain": [-1.9674, 1.981], "nice": false, "zero": false}, "axis": null},
   "y": {"field": "o", "type": "quantitative", "scale": {"domain": [-1.764, 1.764], "nice": false, "zero": false}, "axis": null},
   "size": {"field": "g", "type": "quantitative", "scale": {"type": "pow", "exponent": 2, "domain": [0, 1], "range": [0, 21727], "zero": true}, "legend": null}}},
 {"data": {"name": "outer"}, "transform": [{"calculate": "0", "as": "o"}], "mark": {"type": "point", "shape": "circle", "filled": false, "color": "black", "opacity": 1, "strokeWidth": 1},
  "encoding": {"x": {"field": "o", "type": "quantitative", "axis": null}, "y": {"field": "o", "type": "quantitative", "axis": null}, "size": {"field": "g", "type": "quantitative", "legend": null}}},
 {"data": {"name": "radar"}, "transform": [{"filter": "datum.p == 'h'"}, {"aggregate": [{"op": "count", "as": "c"}], "groupby": ["a", "i", "n"]}, {"calculate": "0", "as": "o"}, {"calculate": "2*PI*datum.i/datum.n", "as": "ang"}, {"calculate": "1.045*sin(datum.ang)", "as": "sx"}, {"calculate": "1.045*cos(datum.ang)", "as": "sy"}],
  "mark": {"type": "rule", "stroke": "#b0b0b0", "strokeWidth": 0.8},
  "encoding": {"x": {"field": "o", "type": "quantitative", "axis": null}, "y": {"field": "o", "type": "quantitative", "axis": null}, "x2": {"field": "sx"}, "y2": {"field": "sy"}}},
 {"data": {"name": "rings"}, "transform": [{"calculate": "0.15 + 0.13*datum.g", "as": "lx"}, {"calculate": "datum.g + 0.05", "as": "ly"}],
  "mark": {"type": "text", "fontSize": 11, "color": "#222222", "align": "center", "baseline": "middle"},
  "encoding": {"x": {"field": "lx", "type": "quantitative", "axis": null}, "y": {"field": "ly", "type": "quantitative", "axis": null}, "text": {"field": "g", "type": "quantitative", "format": ".1f"}}},
 {"data": {"name": "radar"}, "transform": [{"filter": "datum.p == 'h'"}, {"calculate": "2*PI*datum.i/datum.n", "as": "ang"}, {"calculate": "datum.v*sin(datum.ang)", "as": "px"}, {"calculate": "datum.v*cos(datum.ang)", "as": "py"}],
  "mark": {"type": "line", "interpolate": "linear-closed", "strokeWidth": 2, "fillOpacity": 0.1},
  "encoding": {"x": {"field": "px", "type": "quantitative", "axis": null}, "y": {"field": "py", "type": "quantitative", "axis": null}, "order": {"field": "i", "type": "quantitative"},
   "stroke": {"field": "m", "type": "nominal", "scale": {"domain": ["Traditional", "DDPG", "TD3"], "range": ["#66c2a5", "#fc8d62", "#1f77b4"]},
    "legend": {"title": null, "orient": "none", "legendX": 204, "legendY": 36, "symbolType": "stroke", "symbolSize": 441, "symbolStrokeWidth": 2, "labelFontSize": 9.5, "labelFont": "DejaVu Sans", "labelColor": "#222222", "labelOffset": 5, "clipHeight": 10.5, "rowPadding": 0, "padding": 2, "strokeColor": "#cccccc", "cornerRadius": 3, "fillColor": "white"}},
   "fill": {"field": "m", "type": "nominal", "scale": {"domain": ["TD3", "DDPG", "Traditional"], "range": ["#1f77b4", "#fc8d62", "#66c2a5"]}, "legend": null}}},
 {"data": {"name": "radar"}, "transform": [{"filter": "datum.p == 'h'"}, {"aggregate": [{"op": "count", "as": "c"}], "groupby": ["a", "i", "n"]}, {"calculate": "2*PI*datum.i/datum.n", "as": "ang"}, {"calculate": "length(replace(datum.a, regexp('[A-Z]', 'g'), ''))", "as": "lo"}, {"calculate": "length(datum.a) - datum.lo", "as": "up"}, {"calculate": "1.1 + 11.5*(0.54*datum.lo + 0.72*datum.up)/147.4*abs(sin(datum.ang)) + 0.075*abs(cos(datum.ang))", "as": "rc"}, {"calculate": "datum.rc*sin(datum.ang)", "as": "lx"}, {"calculate": "datum.rc*cos(datum.ang)", "as": "ly"}],
  "mark": {"type": "text", "fontSize": 11.5, "color": "#111111", "align": "center", "baseline": "middle"},
  "encoding": {"x": {"field": "lx", "type": "quantitative", "axis": null}, "y": {"field": "ly", "type": "quantitative", "axis": null}, "text": {"field": "a", "type": "nominal"}}},
 {"data": {"values": [{"cap": "(h) WTK", "cx": 0, "cy": -1.53}]}, "mark": {"type": "text", "font": "Liberation Serif", "fontWeight": "bold", "fontSize": 19, "color": "#222222", "align": "center", "baseline": "middle"},
  "encoding": {"x": {"field": "cx", "type": "quantitative", "axis": null}, "y": {"field": "cy", "type": "quantitative", "axis": null}, "text": {"field": "cap", "type": "nominal"}}}
]},
{"width": 398, "height": 260, "layer": [
 {"data": {"name": "rings"}, "transform": [{"calculate": "0", "as": "o"}], "mark": {"type": "point", "shape": "circle", "filled": false, "color": "#b0b0b0", "opacity": 1, "strokeWidth": 0.8},
  "encoding": {"x": {"field": "o", "type": "quantitative", "scale": {"domain": [-1.9946, 3.4057], "nice": false, "zero": false}, "axis": null},
   "y": {"field": "o", "type": "quantitative", "scale": {"domain": [-1.764, 1.764], "nice": false, "zero": false}, "axis": null},
   "size": {"field": "g", "type": "quantitative", "scale": {"type": "pow", "exponent": 2, "domain": [0, 1], "range": [0, 21727], "zero": true}, "legend": null}}},
 {"data": {"name": "outer"}, "transform": [{"calculate": "0", "as": "o"}], "mark": {"type": "point", "shape": "circle", "filled": false, "color": "black", "opacity": 1, "strokeWidth": 1},
  "encoding": {"x": {"field": "o", "type": "quantitative", "axis": null}, "y": {"field": "o", "type": "quantitative", "axis": null}, "size": {"field": "g", "type": "quantitative", "legend": null}}},
 {"data": {"name": "radar"}, "transform": [{"filter": "datum.p == 'i'"}, {"aggregate": [{"op": "count", "as": "c"}], "groupby": ["a", "i", "n"]}, {"calculate": "0", "as": "o"}, {"calculate": "2*PI*datum.i/datum.n", "as": "ang"}, {"calculate": "1.045*sin(datum.ang)", "as": "sx"}, {"calculate": "1.045*cos(datum.ang)", "as": "sy"}],
  "mark": {"type": "rule", "stroke": "#b0b0b0", "strokeWidth": 0.8},
  "encoding": {"x": {"field": "o", "type": "quantitative", "axis": null}, "y": {"field": "o", "type": "quantitative", "axis": null}, "x2": {"field": "sx"}, "y2": {"field": "sy"}}},
 {"data": {"name": "rings"}, "transform": [{"calculate": "0.15 + 0.13*datum.g", "as": "lx"}, {"calculate": "datum.g + 0.05", "as": "ly"}],
  "mark": {"type": "text", "fontSize": 11, "color": "#222222", "align": "center", "baseline": "middle"},
  "encoding": {"x": {"field": "lx", "type": "quantitative", "axis": null}, "y": {"field": "ly", "type": "quantitative", "axis": null}, "text": {"field": "g", "type": "quantitative", "format": ".1f"}}},
 {"data": {"name": "radar"}, "transform": [{"filter": "datum.p == 'i'"}, {"calculate": "2*PI*datum.i/datum.n", "as": "ang"}, {"calculate": "datum.v*sin(datum.ang)", "as": "px"}, {"calculate": "datum.v*cos(datum.ang)", "as": "py"}],
  "mark": {"type": "line", "interpolate": "linear-closed", "strokeWidth": 2, "fillOpacity": 0.1},
  "encoding": {"x": {"field": "px", "type": "quantitative", "axis": null}, "y": {"field": "py", "type": "quantitative", "axis": null}, "order": {"field": "i", "type": "quantitative"},
   "stroke": {"field": "m", "type": "nominal", "scale": {"domain": ["Traditional", "DDPG"], "range": ["#66c2a5", "#fc8d62"]},
    "legend": {"title": null, "orient": "none", "legendX": 207, "legendY": 47, "symbolType": "stroke", "symbolSize": 400, "symbolStrokeWidth": 2, "labelFontSize": 8.8, "labelFont": "DejaVu Sans", "labelColor": "#222222", "labelOffset": 5, "clipHeight": 9.3, "rowPadding": 0, "padding": 2, "strokeColor": "#cccccc", "cornerRadius": 3, "fillColor": "white"}},
   "fill": {"field": "m", "type": "nominal", "scale": {"domain": ["DDPG", "Traditional"], "range": ["#fc8d62", "#66c2a5"]}, "legend": null}}},
 {"data": {"name": "radar"}, "transform": [{"filter": "datum.p == 'i'"}, {"aggregate": [{"op": "count", "as": "c"}], "groupby": ["a", "i", "n"]}, {"calculate": "2*PI*datum.i/datum.n", "as": "ang"}, {"calculate": "length(replace(datum.a, regexp('[A-Z]', 'g'), ''))", "as": "lo"}, {"calculate": "length(datum.a) - datum.lo", "as": "up"}, {"calculate": "1.1 + 11.5*(0.54*datum.lo + 0.72*datum.up)/147.4*abs(sin(datum.ang)) + 0.075*abs(cos(datum.ang))", "as": "rc"}, {"calculate": "datum.rc*sin(datum.ang)", "as": "lx"}, {"calculate": "datum.rc*cos(datum.ang)", "as": "ly"}],
  "mark": {"type": "text", "fontSize": 11.5, "color": "#111111", "align": "center", "baseline": "middle"},
  "encoding": {"x": {"field": "lx", "type": "quantitative", "axis": null}, "y": {"field": "ly", "type": "quantitative", "axis": null}, "text": {"field": "a", "type": "nominal"}}},
 {"data": {"values": [{"cap": "(i) LR", "cx": 0, "cy": -1.53}]}, "mark": {"type": "text", "font": "Liberation Serif", "fontWeight": "bold", "fontSize": 19, "color": "#222222", "align": "center", "baseline": "middle"},
  "encoding": {"x": {"field": "cx", "type": "quantitative", "axis": null}, "y": {"field": "cy", "type": "quantitative", "axis": null}, "text": {"field": "cap", "type": "nominal"}}}
]}
], "spacing": 0, "bounds": "flush", "resolve": {"scale": {"stroke": "independent", "fill": "independent"}, "legend": {"stroke": "independent", "fill": "independent"}}}
]
}
